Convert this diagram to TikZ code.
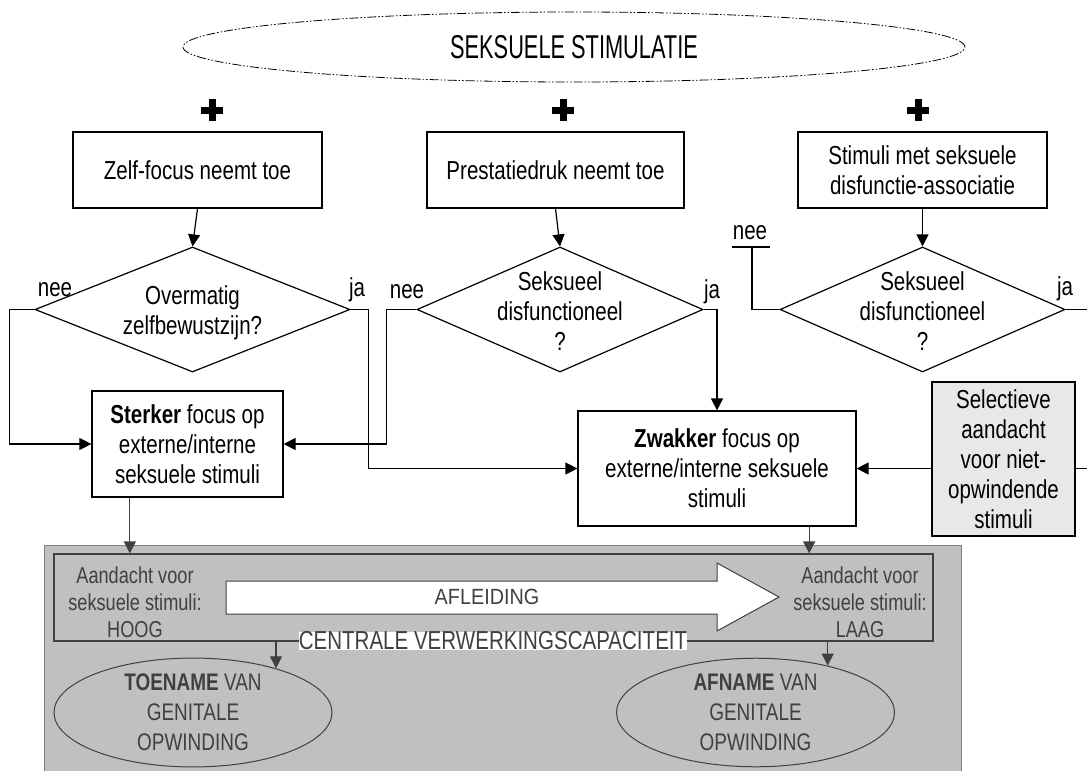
\documentclass[tikz,border=0pt]{standalone}
\usepackage{fontspec}
\setmainfont{Liberation Sans}[FakeStretch=0.79]
\newfontfamily\titlefont{Liberation Sans}[FakeStretch=0.66]
\newfontfamily\wideletters{Liberation Sans}[FakeStretch=0.9]
\usepackage{tikz}
\usetikzlibrary{shapes,arrows.meta,positioning,calc}
\usepackage{xcolor}

\definecolor{panelgrey}{HTML}{C0C0C0}
\definecolor{paneledge}{HTML}{808080}
\definecolor{darkline}{HTML}{404040}
\definecolor{selgrey}{HTML}{E8E8E8}

\tikzset{
  box/.style={draw, line width=1.2pt, align=center, inner sep=2pt},
  choice/.style={diamond, draw, line width=1.2pt, inner sep=0pt, minimum height=125pt},
  flow/.style={line width=1.2pt, -{Triangle[length=12pt,width=12pt]}},
  greyflow/.style={flow, draw=darkline},
  plusmark/.style={line width=7pt},
  stimring/.style={ellipse, draw, line width=0.8pt,
    dash pattern=on 9pt off 2pt on 1.5pt off 2pt on 1.5pt off 2pt,
    minimum width=782pt, minimum height=70pt, inner sep=0pt,
    font=\titlefont\fontsize{33}{38}\selectfont},
  attn/.style={align=center, text=darkline, inner sep=0pt, font=\fontsize{23}{27}\selectfont},
  outcome/.style={ellipse, draw=darkline, fill=panelgrey, line width=1pt, inner sep=0pt,
    align=center, text=darkline, font=\fontsize{24}{30}\selectfont,
    minimum width=278pt, minimum height=107pt}
}

\begin{document}
\begin{tikzpicture}[x=1pt, y=-1pt, font=\fontsize{26}{30}\selectfont]
\useasboundingbox (0,0) rectangle (1087,771);

% Top
\node[stimring] (stim) at (574,47) {SEKSUELE STIMULATIE};
\foreach \px in {212,563,918}
  \draw[plusmark] (\px-11,110) -- (\px+11,110) (\px,99) -- (\px,121);

% Triggers
\node[box, minimum width=249pt, minimum height=76pt] (zelf) at (197.5,170) {Zelf-focus neemt toe};
\node[box, minimum width=257pt, minimum height=76pt] (prest) at (555.5,170) {Prestatiedruk neemt toe};
\node[box, minimum width=249pt, minimum height=76pt] (assoc) at (922.5,170) {Stimuli met seksuele\\disfunctie-associatie};

% Decisions
\node[choice, minimum width=315pt] (d1) at (192.5,309.5) {};
\node[align=center, inner sep=0pt] (d1txt) at (192.5,313) {Overmatig\\zelfbewustzijn?};
\node[choice, minimum width=286pt] (d2) at (560,309.5) {};
\node[align=center, inner sep=0pt] (d2txt) at (560,311) {Seksueel\\disfunctioneel\\?};
\node[choice, minimum width=285pt] (d3) at (922.5,309.5) {};
\node[align=center, inner sep=0pt] (d3txt) at (922.5,311) {Seksueel\\disfunctioneel\\?};

\node[inner sep=0pt] (nee1) at (55,290) {nee};
\node[inner sep=0pt] (ja1) at (357,290) {ja};
\node[inner sep=0pt] (nee2) at (407,292) {nee};
\node[inner sep=0pt] (ja2) at (712,292) {ja};
\node[inner sep=0pt] (nee3) at (750,233) {nee};
\node[inner sep=0pt] (ja3) at (1065,289) {ja};

% Focus boxes
\node[box, minimum width=191pt, minimum height=106pt] (st) at (187.5,444) {\textbf{Sterker} focus op\\externe/interne\\seksuele stimuli};
\node[box, minimum width=278pt, minimum height=115pt] (zw) at (717,468.5) {\textbf{Zwakker} focus op\\externe/interne seksuele\\stimuli};
\node[box, fill=selgrey, minimum width=143pt, minimum height=154pt] (sel) at (1003.5,459) {Selectieve\\aandacht\\voor niet-\\opwindende\\stimuli};

% Connectors top part
\draw[flow] (zelf.south) -- (d1.north);
\draw[flow] (prest.south) -- (d2.north);
\draw[flow] (assoc.south) -- (d3.north);
\draw[flow] (d1.west) -- ++(-25,0) |- (st.west);
\draw[flow] (d1.east) -- ++(18,0) |- (zw.west);
\draw[flow] (d2.west) -- ++(-30,0) |- (st.east);
\draw[flow] (d2.east) -| (zw.north);
\coordinate (neeend) at (752,247);
\draw[line width=1.2pt] (d3.west) -| (neeend);
\draw[line width=1.2pt] ($(neeend)+(-20,0)$) -- ($(neeend)+(18,0)$);
\draw[line width=1.2pt] (d3.east) -- ++(35,0) |- (sel.east |- zw.east);
\draw[flow] (sel.west |- zw.east) -- (zw.east);

% Central processing panel
\node[fill=panelgrey, draw=paneledge, line width=1.2pt, anchor=north west,
  minimum width=917pt, minimum height=245pt, inner sep=0pt] (panel) at (44,545) {};
\node[draw=darkline, line width=1.2pt, minimum width=879pt, minimum height=87pt, inner sep=0pt] (cap) at (493.5,597.5) {};
\node[attn] (hoog) at (135,602) {Aandacht voor\\seksuele stimuli:\\HOOG};
\node[attn] (laag) at (860,602) {Aandacht voor\\seksuele stimuli:\\LAAG};
\draw[darkline, fill=white, line width=1pt] (226,581) -- (717,581) -- (717,563) -- (779,597)
  -- (717,631) -- (717,614) -- (226,614) -- cycle;
\node[text=darkline, inner sep=0pt, font=\wideletters\fontsize{22}{24}\selectfont] (afl) at (487,597) {AFLEIDING};
\node[fill=white, text=darkline, inner sep=0pt] (cvc) at (493,641) {CENTRALE VERWERKINGSCAPACITEIT};

\node[outcome] (toename) at (193,712.5) {\textbf{TOENAME} VAN\\GENITALE\\OPWINDING};
\node[outcome] (afname) at (755.5,712.5) {\textbf{AFNAME} VAN\\GENITALE\\OPWINDING};

\coordinate (stout) at ($(st.south west)!0.2!(st.south east)$);
\coordinate (zwout) at ($(zw.south west)!0.83!(zw.south east)$);
\draw[greyflow] (stout) -- (stout |- cap.north);
\draw[greyflow] (zwout) -- (zwout |- cap.north);
\draw[greyflow] (toename.28 |- cap.south) -- (toename.28);
\draw[greyflow] (afname.33 |- cap.south) -- (afname.33);

\end{tikzpicture}
\end{document}
